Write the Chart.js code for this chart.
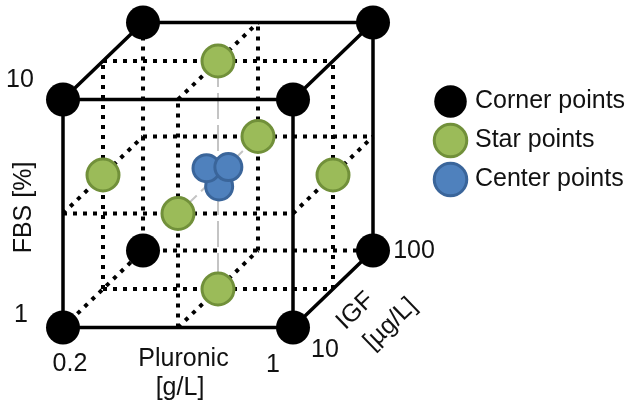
<!DOCTYPE html>
<html><head><meta charset="utf-8">
<script src="https://cdn.jsdelivr.net/npm/chart.js@4.4.1/dist/chart.umd.min.js"></script>
<style>html,body{margin:0;padding:0;background:#fff;overflow:hidden}canvas{display:block}</style>
</head><body>
<canvas id="c" width="631" height="408"></canvas>
<script>
// ---------- DATA (coded design levels: -1 = low, 0 = mid, +1 = high) ----------
// order of each triple: [Pluronic, FBS, IGF]
const pluronicTicks = ['0.2', '1'];        // g/L
const fbsTicks = ['1', '10'];              // %
const igfTicks = ['10', '100'];            // µg/L
const pluronicTitle = ['Pluronic', '[g/L]'];
const fbsTitle = 'FBS [%]';
const igfTitle = ['IGF', '[µg/L]'];
const seriesLabels = ['Corner points', 'Star points', 'Center points'];

const cornerPoints = [[-1,-1,-1],[1,-1,-1],[-1,1,-1],[1,1,-1],[-1,-1,1],[1,-1,1],[-1,1,1],[1,1,1]];
const starPoints = [[0,1,0],[0,-1,0],[-1,0,0],[1,0,0],[0,0,-1],[0,0,1]];
// replicated centre runs, drawn slightly apart as in the figure
const centerPoints = [[0.01,-0.1,0],[-0.1,0.06,0],[0.09,0.07,0]];

// cube edges seen in front (solid) and hidden edges (dotted)
const solidEdges = [
  [[-1,-1,-1],[1,-1,-1]], [[-1,1,-1],[1,1,-1]], [[-1,-1,-1],[-1,1,-1]], [[1,-1,-1],[1,1,-1]],
  [[-1,1,1],[1,1,1]], [[1,-1,1],[1,1,1]], [[-1,1,-1],[-1,1,1]], [[1,1,-1],[1,1,1]], [[1,-1,-1],[1,-1,1]]
];
const hiddenEdges = [
  [[-1,-1,1],[1,-1,1]], [[-1,-1,1],[-1,1,1]], [[-1,-1,-1],[-1,-1,1]]
];
// mid-lines on each face (dotted)
const faceMidLines = [
  [[0,-1,-1],[0,1,-1]], [[-1,0,-1],[1,0,-1]],
  [[0,-1,1],[0,1,1]], [[-1,0,1],[1,0,1]],
  [[-1,-1,0],[-1,1,0]], [[-1,0,-1],[-1,0,1]],
  [[1,-1,0],[1,1,0]], [[1,0,-1],[1,0,1]],
  [[-1,1,0],[1,1,0]], [[0,1,-1],[0,1,1]],
  [[-1,-1,0],[1,-1,0]], [[0,-1,-1],[0,-1,1]]
];
// axes through the centre (light grey dashed)
const centreAxes = [
  [[0,1,0],[0,-1,0]], [[0,0,-1],[0,0,1]]
];

// ---------- oblique projection / layout ----------
const DEPTH = {x: 40/115, y: 38.5/114};
const project = p => ({x: p[0] + DEPTH.x * p[2], y: p[1] + DEPTH.y * p[2]});
const segs = list => {
  const out = [];
  list.forEach(s => { out.push(project(s[0]), project(s[1]), {x: null, y: null}); });
  return out;
};
const ORIGIN = {x: 218, y: 175}, UNIT = {x: 115, y: 114};
const AREA = {left: 0, right: 424.5, top: 0, bottom: 408};
const LEGEND_TOP = 75;

const FONT = '"Liberation Sans", Arial, sans-serif';
const textItems = [
  {t: pluronicTicks[0], at: [-1,-1,-1], dx: 7, dy: 36.5},
  {t: pluronicTicks[1], at: [1,-1,-1], dx: -20, dy: 37.5},
  {t: pluronicTitle[0], at: [0,-1,-1], dx: 5.5, dy: 31.5},
  {t: pluronicTitle[1], at: [0,-1,-1], dx: 2, dy: 60.5},
  {t: fbsTicks[0], at: [-1,-1,-1], dx: -42, dy: -12.5},
  {t: fbsTicks[1], at: [-1,1,-1], dx: -43, dy: -19.5},
  {t: fbsTitle, at: [-1,0,-1], dx: -39, dy: -6, rot: -90},
  {t: igfTicks[0], at: [1,-1,-1], dx: 32, dy: 22.5},
  {t: igfTicks[1], at: [1,-1,1], dx: 41, dy: 0.5},
  {t: igfTitle[0], at: [1,-1,0], dx: 22.5, dy: 22, rot: -44},
  {t: igfTitle[1], at: [1,-1,0], dx: 57.5, dy: 35, rot: -44}
];

const labelPlugin = {
  id: 'cubeLabels',
  afterDraw(chart) {
    const {ctx, scales: {x, y}} = chart;
    ctx.save();
    ctx.fillStyle = '#111';
    ctx.font = '25px ' + FONT;
    ctx.textAlign = 'center';
    ctx.textBaseline = 'middle';
    textItems.forEach(it => {
      const p = project(it.at);
      const px = x.getPixelForValue(p.x) + it.dx;
      const py = y.getPixelForValue(p.y) + it.dy;
      ctx.save();
      ctx.translate(px, py);
      if (it.rot) ctx.rotate(it.rot * Math.PI / 180);
      ctx.fillText(it.t, 0, 0);
      ctx.restore();
    });
    ctx.restore();
  }
};

const common = {clip: false, showLine: false};
new Chart(document.getElementById('c'), {
  type: 'scatter',
  data: {
    datasets: [
      {...common, label: seriesLabels[0], data: cornerPoints.map(project),
       pointRadius: 17, backgroundColor: '#000', borderColor: '#000', borderWidth: 0, pointStyle: 'circle'},
      {...common, label: seriesLabels[1], data: starPoints.map(project),
       pointRadius: 16, backgroundColor: '#9bbb59', borderColor: '#71903a', borderWidth: 3, pointStyle: 'circle'},
      {...common, label: seriesLabels[2], data: centerPoints.map(project),
       pointRadius: 13.5, backgroundColor: '#4f81bd', borderColor: '#3a659a', borderWidth: 3, pointStyle: 'circle'},
      {clip: false, label: 'edges', data: segs(solidEdges), showLine: true, pointRadius: 0,
       borderColor: '#000', borderWidth: 3.5, spanGaps: false},
      {clip: false, label: 'dotted', data: segs(hiddenEdges.concat(faceMidLines)), showLine: true, pointRadius: 0,
       borderColor: '#000', borderWidth: 4, borderDash: [4, 6], spanGaps: false},
      {clip: false, label: 'axes', data: segs(centreAxes), showLine: true, pointRadius: 0,
       borderColor: '#c4c4c4', borderWidth: 2, borderDash: [26, 6], spanGaps: false}
    ]
  },
  options: {
    responsive: false,
    animation: false,
    events: [],
    layout: {autoPadding: false, padding: 0},
    scales: {
      x: {type: 'linear', display: false, bounds: 'data',
          min: (AREA.left - ORIGIN.x) / UNIT.x, max: (AREA.right - ORIGIN.x) / UNIT.x},
      y: {type: 'linear', display: false, bounds: 'data',
          min: (ORIGIN.y - AREA.bottom) / UNIT.y, max: (ORIGIN.y - AREA.top) / UNIT.y}
    },
    plugins: {
      tooltip: {enabled: false},
      legend: {
        position: 'right',
        align: 'start',
        maxWidth: 631 - AREA.right,
        title: {display: true, text: '', font: {size: 10, lineHeight: 1}, padding: {top: LEGEND_TOP - 10, bottom: 0}},
        labels: {
          usePointStyle: true,
          boxWidth: 24,
          boxHeight: 23,
          padding: 14,
          color: '#111',
          font: {family: FONT, size: 25},
          filter: item => item.datasetIndex < 3
        }
      }
    }
  },
  plugins: [labelPlugin]
});
</script>
</body></html>
